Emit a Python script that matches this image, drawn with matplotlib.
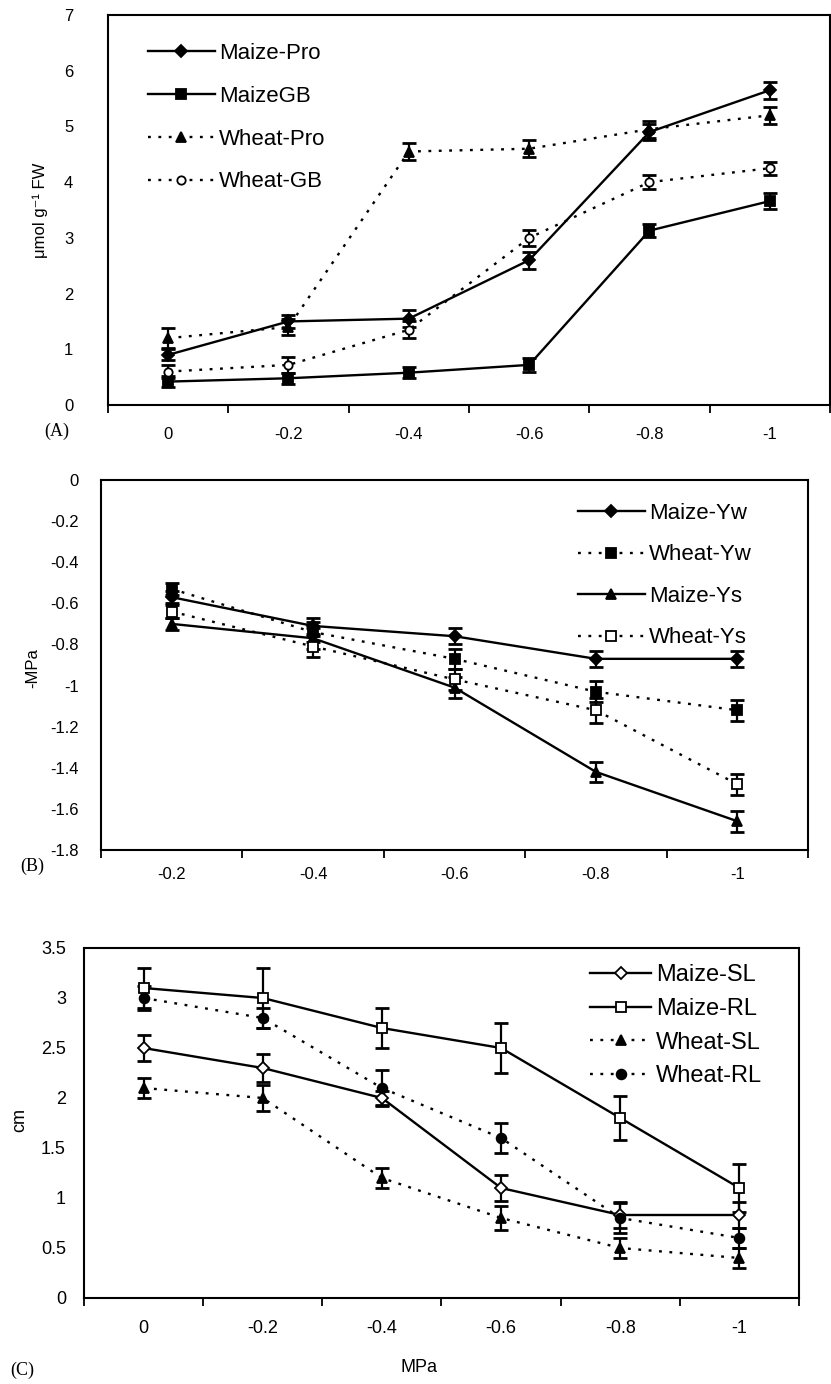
import numpy as np
import matplotlib
matplotlib.use('Agg')
import matplotlib.pyplot as plt

plt.rcParams['font.family'] = ['Liberation Sans', 'DejaVu Sans']

# ---- данные панели A (осмолиты) ----
cats_a = ['0', '-0.2', '-0.4', '-0.6', '-0.8', '-1']
maize_pro = [0.9, 1.5, 1.55, 2.6, 4.9, 5.65]
maize_pro_err = [0.1, 0.12, 0.15, 0.15, 0.15, 0.15]
maize_gb = [0.42, 0.48, 0.58, 0.72, 3.13, 3.66]
maize_gb_err = [0.1, 0.1, 0.1, 0.12, 0.12, 0.15]
wheat_pro = [1.2, 1.4, 4.55, 4.6, 4.95, 5.2]
wheat_pro_err = [0.18, 0.15, 0.15, 0.15, 0.15, 0.15]
wheat_gb = [0.6, 0.72, 1.35, 3.0, 4.0, 4.25]
wheat_gb_err = [0.12, 0.15, 0.15, 0.15, 0.12, 0.12]

# ---- данные панели B (водный потенциал) ----
cats_b = ['-0.2', '-0.4', '-0.6', '-0.8', '-1']
maize_yw = [-0.57, -0.71, -0.76, -0.87, -0.87]
maize_yw_err = [0.03, 0.04, 0.04, 0.04, 0.04]
wheat_yw = [-0.53, -0.74, -0.87, -1.03, -1.12]
wheat_yw_err = [0.03, 0.05, 0.05, 0.05, 0.05]
maize_ys = [-0.70, -0.77, -1.01, -1.42, -1.66]
maize_ys_err = [0.03, 0.05, 0.05, 0.05, 0.05]
wheat_ys = [-0.64, -0.81, -0.97, -1.12, -1.48]
wheat_ys_err = [0.03, 0.05, 0.05, 0.06, 0.05]

# ---- данные панели C (длина побега/корня) ----
cats_c = ['0', '-0.2', '-0.4', '-0.6', '-0.8', '-1']
maize_sl = [2.5, 2.3, 2.0, 1.1, 0.83, 0.83]
maize_sl_err = [0.13, 0.14, 0.07, 0.13, 0.13, 0.13]
maize_rl = [3.1, 3.0, 2.7, 2.5, 1.8, 1.1]
maize_rl_err = [0.2, 0.3, 0.2, 0.25, 0.22, 0.24]
wheat_sl = [2.1, 2.0, 1.2, 0.8, 0.5, 0.4]
wheat_sl_err = [0.1, 0.13, 0.1, 0.12, 0.1, 0.1]
wheat_rl = [3.0, 2.8, 2.1, 1.6, 0.8, 0.6]
wheat_rl_err = [0.12, 0.1, 0.18, 0.15, 0.15, 0.1]

W, H = 831, 1384
fig = plt.figure(figsize=(W / 100, H / 100), dpi=100)

DOT = (0, (1.2, 3.2))


def pix_axes(left, top, right, bottom):
    return fig.add_axes([left / W, 1 - bottom / H, (right - left) / W, (bottom - top) / H])


def draw_series(ax, values, errors, marker, ls, filled, label, ms=7):
    x = np.arange(len(values))
    ax.errorbar(x, values, yerr=errors, fmt='none', ecolor='black',
                elinewidth=1.6, capsize=5, capthick=2, zorder=2)
    ax.plot(x, values, color='black', linestyle=ls, linewidth=1.7,
            marker=marker, markersize=ms,
            markerfacecolor='black' if filled else 'white',
            markeredgecolor='black', markeredgewidth=1.3, label=label, zorder=3)


def setup_axes(ax, cats, ylim, yticks, fs, ypad, xpad):
    n = len(cats)
    ax.set_xlim(-0.5, n - 0.5)
    ax.set_ylim(*ylim)
    # деления между категориями, подписи по центру
    ax.set_xticks(np.arange(n + 1) - 0.5)
    ax.set_xticklabels([])
    ax.set_xticks(np.arange(n), minor=True)
    ax.set_xticklabels(cats, minor=True, fontsize=fs)
    ax.tick_params(axis='x', which='major', direction='out', length=6, width=1.3)
    ax.tick_params(axis='x', which='minor', length=0, pad=xpad)
    ax.set_yticks(yticks)
    ax.set_yticklabels([f'{v:g}' for v in yticks], fontsize=fs)
    ax.tick_params(axis='y', length=0, pad=ypad)
    for s in ax.spines.values():
        s.set_linewidth(1.5)


def add_legend(ax, x_px, top_px, fs, spacing, hl):
    ax.legend(loc='upper left', bbox_to_anchor=(x_px / W, 1 - top_px / H),
              bbox_transform=fig.transFigure, frameon=False, fontsize=fs,
              borderpad=0, borderaxespad=0, handlelength=hl, handletextpad=0.2,
              labelspacing=spacing)


# ---------------- Панель A ----------------
ax_a = pix_axes(108, 15, 830, 405)
draw_series(ax_a, maize_pro, maize_pro_err, 'D', '-', True, 'Maize-Pro', ms=6.5)
draw_series(ax_a, maize_gb, maize_gb_err, 's', '-', True, 'MaizeGB')
draw_series(ax_a, wheat_pro, wheat_pro_err, '^', DOT, True, 'Wheat-Pro')
draw_series(ax_a, wheat_gb, wheat_gb_err, 'o', DOT, False, 'Wheat-GB', ms=6)
setup_axes(ax_a, cats_a, (0, 7), np.arange(0, 8), 12, 25, 16)
add_legend(ax_a, 148, 43, 16, 0.98, 3.0)
fig.text(40 / W, 1 - 210 / H, 'μmol g⁻¹ FW', rotation=90, ha='center', va='center',
         fontsize=12)
fig.text(57 / W, 1 - 431 / H, '(A)', family='Liberation Serif', fontsize=13,
         ha='center', va='center')

# ---------------- Панель B ----------------
ax_b = pix_axes(101, 480, 808, 850)
draw_series(ax_b, maize_yw, maize_yw_err, 'D', '-', True, 'Maize-Yw', ms=6.5)
draw_series(ax_b, wheat_yw, wheat_yw_err, 's', DOT, True, 'Wheat-Yw')
draw_series(ax_b, maize_ys, maize_ys_err, '^', '-', True, 'Maize-Ys')
draw_series(ax_b, wheat_ys, wheat_ys_err, 's', DOT, False, 'Wheat-Ys')
setup_axes(ax_b, cats_b, (-1.8, 0), np.round(np.arange(0, -1.81, -0.2), 1), 12, 16, 12)
add_legend(ax_b, 578, 503, 16, 0.92, 3.0)
fig.text(33 / W, 1 - 668 / H, '-MPa', rotation=90, ha='center', va='center',
         fontsize=12)
fig.text(32 / W, 1 - 866 / H, '(B)', family='Liberation Serif', fontsize=13,
         ha='center', va='center')

# ---------------- Панель C ----------------
ax_c = pix_axes(84, 948, 799, 1298)
draw_series(ax_c, maize_sl, maize_sl_err, 'D', '-', False, 'Maize-SL', ms=6.5)
draw_series(ax_c, maize_rl, maize_rl_err, 's', '-', False, 'Maize-RL')
draw_series(ax_c, wheat_sl, wheat_sl_err, '^', DOT, True, 'Wheat-SL')
draw_series(ax_c, wheat_rl, wheat_rl_err, 'o', DOT, True, 'Wheat-RL')
setup_axes(ax_c, cats_c, (0, 3.5), np.arange(0, 3.51, 0.5), 13, 13, 16)
add_legend(ax_c, 590, 964, 17, 0.5, 2.6)
fig.text(20 / W, 1 - 1120 / H, 'cm', rotation=90, ha='center', va='center',
         fontsize=13)
fig.text(419 / W, 1 - 1367 / H, 'MPa', ha='center', va='center', fontsize=13)
fig.text(22 / W, 1 - 1370 / H, '(C)', family='Liberation Serif', fontsize=13,
         ha='center', va='center')

fig.savefig('out.png', dpi=100)
